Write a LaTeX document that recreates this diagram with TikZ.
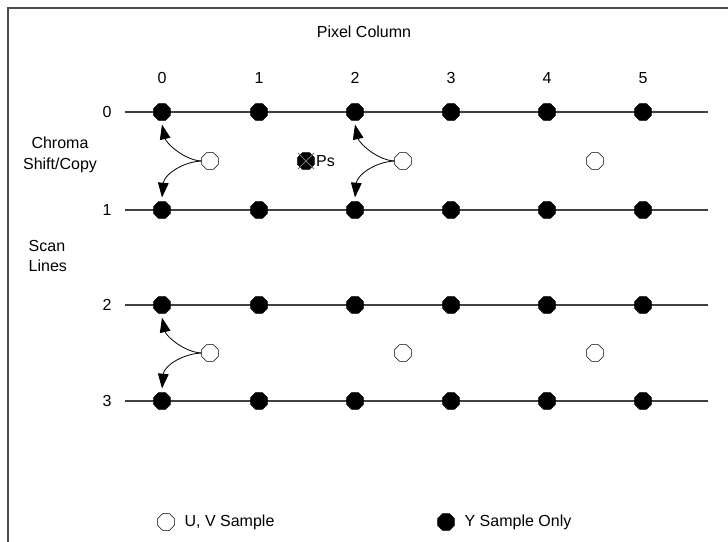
\documentclass[tikz,border=0pt]{standalone}
\usepackage{fontspec}
\setmainfont{Liberation Sans}
\usepackage{tikz}
\usetikzlibrary{arrows.meta,positioning,calc,shapes.geometric}

\begin{document}
\begin{tikzpicture}[x=0.75pt,y=-0.75pt,
  font=\fontsize{12}{15.5}\selectfont,
  ysmp/.style={regular polygon,regular polygon sides=8,draw,fill=black,inner sep=0pt,minimum size=13.5pt},
  uvsmp/.style={regular polygon,regular polygon sides=8,draw,fill=white,inner sep=0pt,minimum size=13.5pt},
  scanline/.style={black!75,line width=0.8pt},
  arr/.style={-{Triangle[length=11pt,width=8pt]},line width=0.6pt},
  frm/.style={black!70,line width=1.2pt}]
  \useasboundingbox (0,0) rectangle (728,542);
  \draw[frm] (8,542) -- (8,8) -- (728,8);
  \node (title) at (364,32) {Pixel Column};
  \node[align=center] (chroma) at (60,155) {Chroma\\Shift/Copy};
  \node[align=left,anchor=west] (scan) at (24,256) {Scan\\Lines};
  % scan lines with Y samples
  \foreach \r/\y in {0/112,1/210,2/305,3/401} {
    \node (row\r) at (107,\y) {\r};
    \coordinate (lft\r) at (125,\y);
    \coordinate (rgt\r) at (708,\y);
    \draw[scanline] (lft\r) -- (rgt\r);
    \foreach \c/\x in {0/162,1/259,2/355,3/451,4/547,5/643}
      \node[ysmp] (y\c\r) at (\x,\y) {};
  }
  \foreach \c/\x in {0/162,1/259,2/355,3/451,4/547,5/643}
    \node (col\c) at (\x,78) {\c};
  % U, V samples
  \node[uvsmp] (uva) at (210,161) {};
  \node[uvsmp] (uvb) at (403,161) {};
  \node[uvsmp] (uvc) at (595,161) {};
  \node[uvsmp] (uvd) at (210,353) {};
  \node[uvsmp] (uve) at (403,353) {};
  \node[uvsmp] (uvf) at (595,353) {};
  % interpolated sample
  \node[ysmp] (ps) at (306,161) {};
  \draw[black!55,line width=0.7pt] ($(ps.north west)+(-2,-2)$) -- ($(ps.south east)+(2,2)$)
    ($(ps.north east)+(2,-2)$) -- ($(ps.south west)+(-2,2)$);
  \node[anchor=west,inner sep=1pt] (pslbl) at (ps.east) {Ps};
  % chroma shift/copy arrows
  \foreach \s/\c in {uva/0,uvb/2} {
    \draw[arr] (\s.west) .. controls +(-18,-1) and +(4,18) .. ([yshift=-3]y\c0.south);
    \draw[arr] (\s.west) .. controls +(-20,1) and +(2,-22) .. ([yshift=3]y\c1.north);
  }
  \draw[arr] (uvd.west) .. controls +(-18,-1) and +(4,18) .. ([yshift=-3]y02.south);
  \draw[arr] (uvd.west) .. controls +(-20,1) and +(2,-22) .. ([yshift=3]y03.north);
  % legend
  \node[uvsmp] (keyuv) at (166,522) {};
  \node[anchor=west] (keyuvlbl) at ([xshift=4]keyuv.east) {U, V Sample};
  \node[ysmp] (keyy) at (446,522) {};
  \node[anchor=west] (keyylbl) at ([xshift=4]keyy.east) {Y Sample Only};
\end{tikzpicture}
\end{document}
